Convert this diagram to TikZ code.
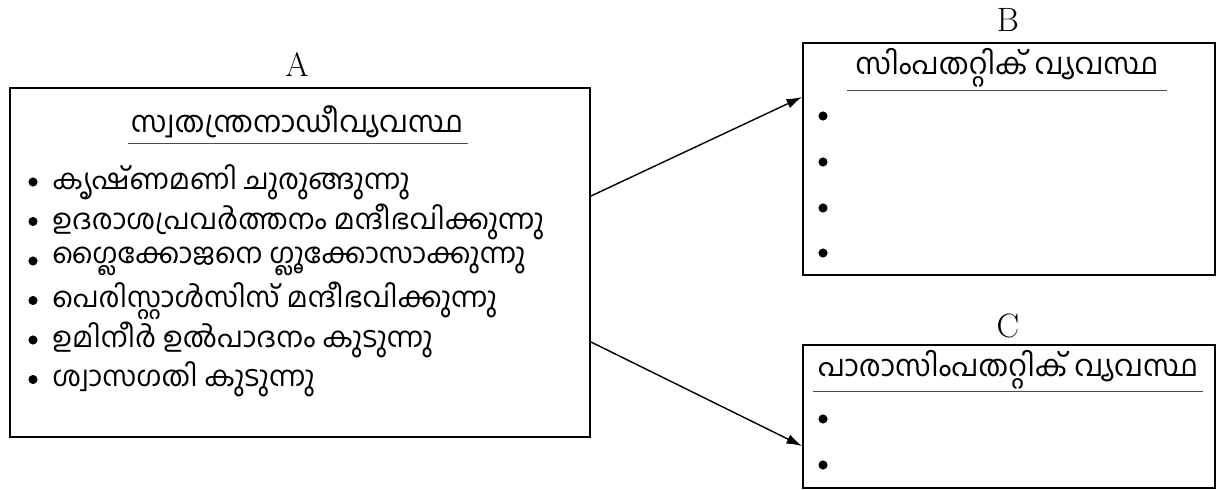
\documentclass[tikz,border=0pt]{standalone}
\usepackage{fontspec}
\newfontfamily\malfont[Script=Malayalam]{Hind Kochi}
\usepackage{tikz}
\usetikzlibrary{arrows.meta,calc,positioning}

\tikzset{
  sysbox/.style = {draw, line width=1.4pt, rectangle, inner sep=0pt},
  boxlabel/.style = {font=\fontsize{24}{28}\selectfont},
  systitle/.style = {font=\malfont\fontsize{21}{25}\selectfont, inner sep=0pt},
  effect/.style = {font=\malfont\fontsize{20}{24}\selectfont, anchor=west, inner sep=0pt},
  dot/.style = {circle, fill, inner sep=0pt, minimum size=6.5pt},
  uline/.style = {line width=0.6pt, black!70},
  link/.style = {line width=1pt, -{Latex[length=11pt,width=7pt]}}
}

\begin{document}
\begin{tikzpicture}[x=0.025cm, y=-0.025cm]
\useasboundingbox (0,0) rectangle (1223,490);

% the three boxes
\node[sysbox, minimum width=580*0.025cm, minimum height=349*0.025cm] (boxA) at (300,262.5) {};
\node[sysbox, minimum width=412*0.025cm, minimum height=232*0.025cm] (boxB) at (1009,159) {};
\node[sysbox, minimum width=412*0.025cm, minimum height=143*0.025cm] (boxC) at (1009,416.5) {};
\node[boxlabel] (labA) at (297,65) {A};
\node[boxlabel] (labB) at (1008,20) {B};
\node[boxlabel] (labC) at (1008,326) {C};

% box A
\node[systitle] (titA) at (297,122) {സ്വതന്ത്രനാഡീവ്യവസ്ഥ};
\draw[uline] (128,143) -- (468,143);
\node[dot] (a1) at (33,182) {};
\node[effect] (e1) at (52,182) {കൃഷ്ണമണി ചുരുങ്ങുന്നു};
\node[dot] (a2) at (33,221.5) {};
\node[effect] (e2) at (52,221.5) {ഉദരാശപ്രവർത്തനം മന്ദീഭവിക്കുന്നു};
\node[dot] (a3) at (33,261) {};
\node[effect] (e3) at (52,261) {ഗ്ലൈക്കോജനെ ഗ്ലൂക്കോസാക്കുന്നു};
\node[dot] (a4) at (33,300.5) {};
\node[effect] (e4) at (52,300.5) {പെരിസ്റ്റാൾസിസ് മന്ദീഭവിക്കുന്നു};
\node[dot] (a5) at (33,340) {};
\node[effect] (e5) at (52,340) {ഉമിനീർ ഉൽപാദനം കുടുന്നു};
\node[dot] (a6) at (33,379.5) {};
\node[effect] (e6) at (52,379.5) {ശ്വാസഗതി കുടുന്നു};

% box B
\node[systitle] (titB) at (1007,68) {സിംപതറ്റിക് വ്യവസ്ഥ};
\draw[uline] (847,90) -- (1167,90);
\node[dot] (b1) at (823,116) {};
\node[dot] (b2) at (823,162) {};
\node[dot] (b3) at (823,208) {};
\node[dot] (b4) at (823,253) {};

% box C
\node[systitle] (titC) at (1008,370) {പാരാസിംപതറ്റിക് വ്യവസ്ഥ};
\draw[uline] (813,391) -- (1203,391);
\node[dot] (c1) at (823,419) {};
\node[dot] (c2) at (823,465) {};

% arrows
\draw[link] ($(boxA.north east)+(0,109)$) -- ($(boxB.north west)+(0,55)$);
\draw[link] ($(boxA.north east)+(0,255)$) -- ($(boxC.north west)+(0,102)$);
\end{tikzpicture}
\end{document}
